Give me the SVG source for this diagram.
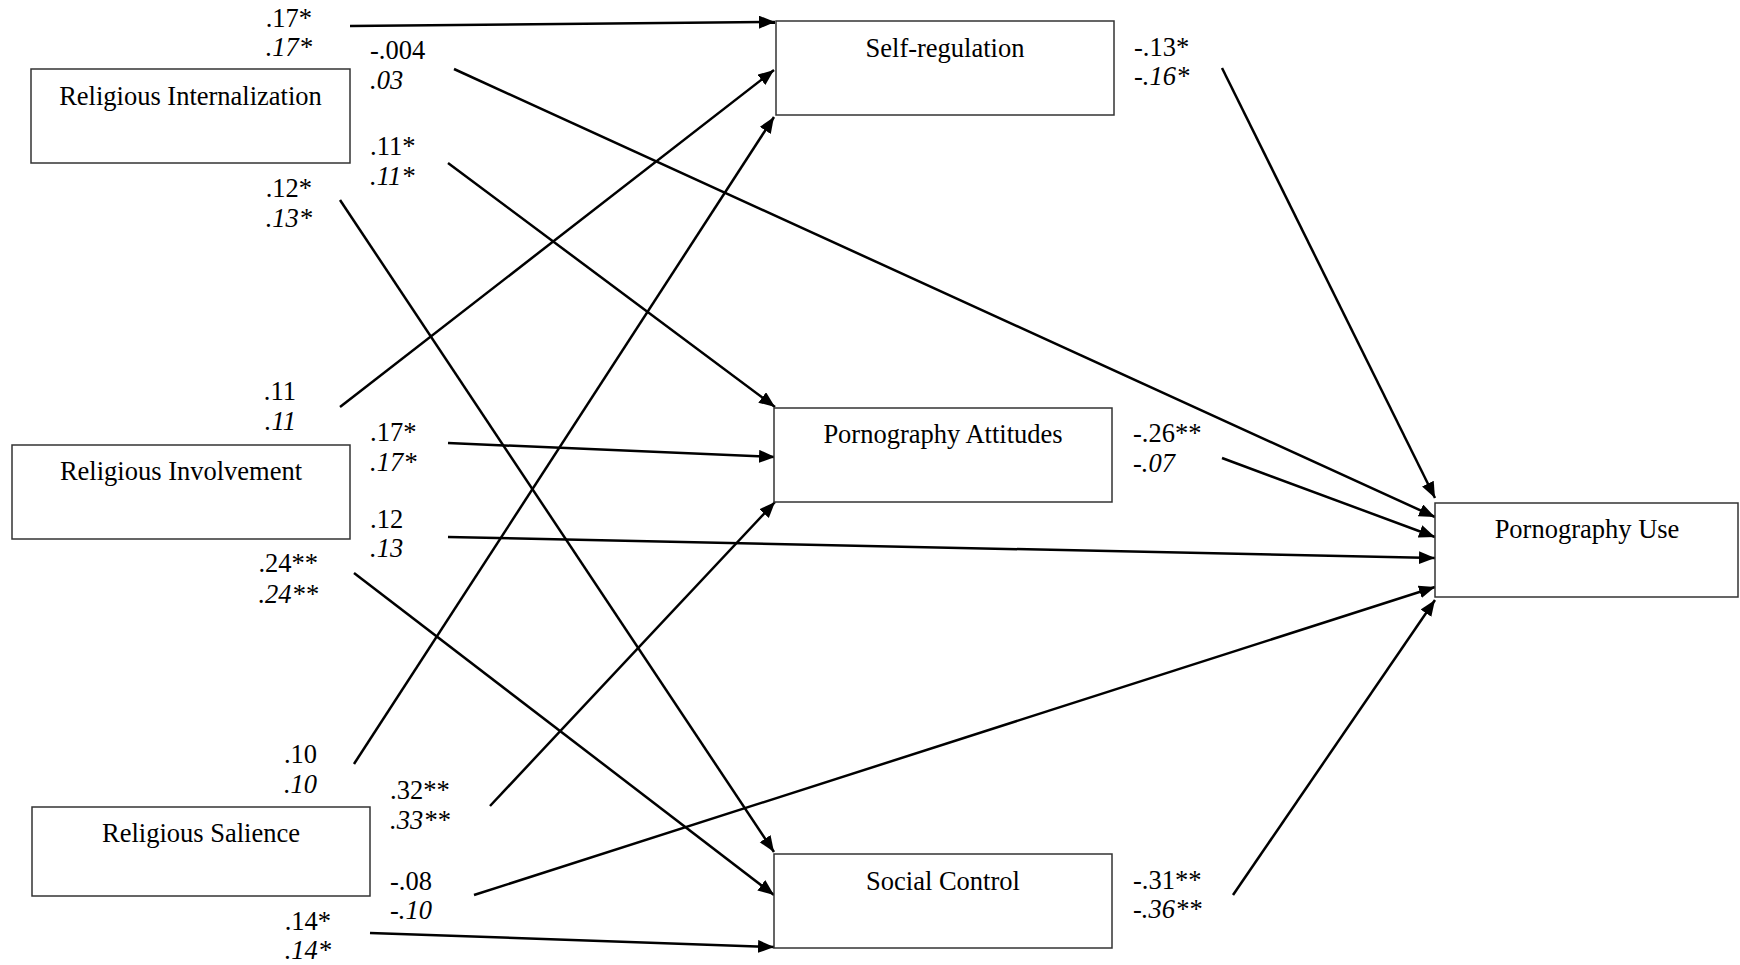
<svg xmlns="http://www.w3.org/2000/svg" width="1740" height="965" viewBox="0 0 1740 965">
<style>
  text { font-family: "Liberation Serif", "Times New Roman", serif; font-size: 26.5px; fill: #000; }
  .it { font-style: italic; }
  .up { font-style: normal; }
  .box { fill: #fff; stroke: #333; stroke-width: 1.5; }
  .node text { text-anchor: middle; }
  .end { text-anchor: end; }
  #connectors line { stroke: #000; stroke-width: 2.5; marker-end: url(#arrow); }
</style>
<defs>
  <marker id="arrow" markerUnits="userSpaceOnUse" markerWidth="17" markerHeight="14" refX="16" refY="6.5" orient="auto">
    <path d="M0,0 L16,6.5 L0,13 z" fill="#000"/>
  </marker>
</defs>
<rect width="1740" height="965" fill="#fff"/>

<g id="connectors">
  <line x1="350" y1="26" x2="775" y2="22"/>
  <line x1="454" y1="69" x2="1435" y2="517"/>
  <line x1="448" y1="163" x2="775" y2="407"/>
  <line x1="340" y1="200" x2="774" y2="852"/>
  <line x1="340" y1="407" x2="774" y2="70"/>
  <line x1="448" y1="443" x2="775" y2="457"/>
  <line x1="448" y1="537" x2="1435" y2="558"/>
  <line x1="354" y1="573" x2="774" y2="895"/>
  <line x1="354" y1="764" x2="774" y2="117"/>
  <line x1="490" y1="806" x2="775" y2="502"/>
  <line x1="474" y1="895" x2="1435" y2="587"/>
  <line x1="370" y1="933" x2="774" y2="947"/>
  <line x1="1222" y1="68" x2="1435" y2="498"/>
  <line x1="1222" y1="458" x2="1435" y2="537"/>
  <line x1="1233" y1="895" x2="1435" y2="600"/>
</g>

<g id="node-religious-internalization" class="node">
  <rect class="box" x="31" y="69" width="319" height="94"/>
  <text x="190.5" y="105">Religious Internalization</text>
</g>
<g id="node-religious-involvement" class="node">
  <rect class="box" x="12" y="445" width="338" height="94"/>
  <text x="181" y="480">Religious Involvement</text>
</g>
<g id="node-religious-salience" class="node">
  <rect class="box" x="32" y="807" width="338" height="89"/>
  <text x="201" y="842">Religious Salience</text>
</g>
<g id="node-self-regulation" class="node">
  <rect class="box" x="776" y="21" width="338" height="94"/>
  <text x="945" y="57">Self-regulation</text>
</g>
<g id="node-pornography-attitudes" class="node">
  <rect class="box" x="774" y="408" width="338" height="94"/>
  <text x="943" y="443">Pornography Attitudes</text>
</g>
<g id="node-social-control" class="node">
  <rect class="box" x="774" y="854" width="338" height="94"/>
  <text x="943" y="890">Social Control</text>
</g>
<g id="node-pornography-use" class="node">
  <rect class="box" x="1435" y="503" width="303" height="94"/>
  <text x="1587" y="538">Pornography Use</text>
</g>

<g id="labels">
  <text class="end" x="312" y="27">.17*</text>
  <text class="end it" x="312" y="56">.17*</text>
  <text x="370" y="59">-.004</text>
  <text class="it" x="370" y="89">.03</text>
  <text x="370" y="155">.11*</text>
  <text class="it" x="370" y="185">.11*</text>
  <text class="end" x="312" y="197">.12*</text>
  <text class="end it" x="312" y="227">.13*</text>

  <text class="end" x="296" y="400">.11</text>
  <text class="end it" x="296" y="430">.11</text>
  <text x="370" y="441">.17*</text>
  <text class="it" x="370" y="471">.17*</text>
  <text x="370" y="528">.12</text>
  <text class="it" x="370" y="557">.13</text>
  <text class="end" x="318" y="572">.24**</text>
  <text class="end it" x="318" y="603">.24**</text>

  <text class="end" x="317" y="763">.10</text>
  <text class="end it" x="317" y="793">.10</text>
  <text x="390" y="799">.32**</text>
  <text class="it" x="390" y="829">.33**</text>
  <text x="390" y="890">-.08</text>
  <text x="390" y="919">-<tspan class="it">.10</tspan></text>
  <text class="end" x="331" y="930">.14*</text>
  <text class="end it" x="331" y="959">.14*</text>

  <text x="1134" y="56">-.13*</text>
  <text x="1134" y="85">-<tspan class="it">.16*</tspan></text>
  <text x="1133" y="442">-.26**</text>
  <text x="1133" y="472">-<tspan class="it">.07</tspan></text>
  <text x="1133" y="889">-.31**</text>
  <text x="1133" y="918">-<tspan class="it">.36**</tspan></text>
</g>
</svg>
